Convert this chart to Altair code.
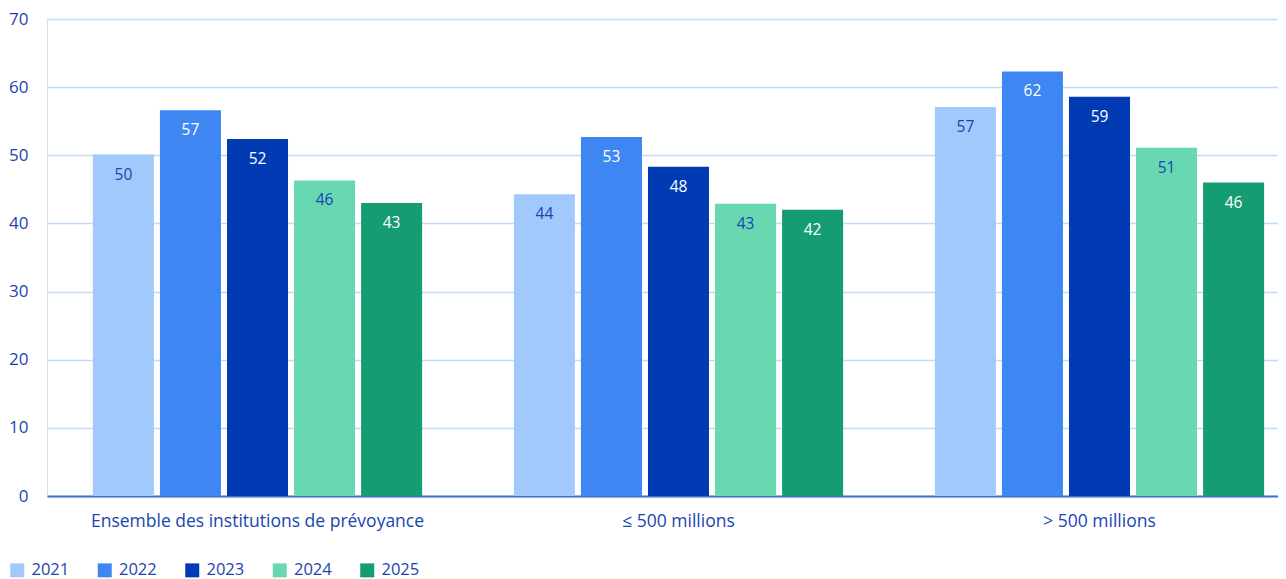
import altair as alt
import pandas as pd

categories = ["Ensemble des institutions de prévoyance", "≤ 500 millions", "> 500 millions"]
years = ["2021", "2022", "2023", "2024", "2025"]
v2021 = [50.1, 44.3, 57.1]
v2022 = [56.6, 52.7, 62.3]
v2023 = [52.4, 48.3, 58.6]
v2024 = [46.3, 42.9, 51.1]
v2025 = [43.0, 42.0, 46.0]
y_ticks = [0, 10, 20, 30, 40, 50, 60, 70]
colors = ["#a2c9fb", "#3e87f2", "#003bb3", "#68d8b0", "#169c72"]

series = [v2021, v2022, v2023, v2024, v2025]
rows = []
for yr, vals in zip(years, series):
    for cat, v in zip(categories, vals):
        rows.append({"category": cat, "year": yr, "value": v})
df = pd.DataFrame(rows)

TXT = "#1a44b0"
FONT = "Open Sans"

x = alt.X("category:N", sort=categories, title=None,
          scale=alt.Scale(paddingInner=0.218, paddingOuter=0.109, range=[0, 1263]),
          axis=alt.Axis(labelAngle=0, labelFontSize=17.5, labelColor=TXT, labelFont=FONT,
                        labelLimit=1000,
                        ticks=False, tickSize=0, labelPadding=16, domain=True,
                        domainColor="#3d70d4", domainWidth=2, grid=False))
xo = alt.XOffset("year:N", sort=years, scale=alt.Scale(paddingInner=0.09, paddingOuter=0))
y = alt.Y("value:Q", title=None,
          scale=alt.Scale(domain=[0, 70], nice=False),
          axis=alt.Axis(values=y_ticks, labelFontSize=17, labelColor=TXT, labelFont=FONT,
                        ticks=False, tickSize=0, labelPadding=19, domain=False,
                        grid=True, gridColor="#c4dbf6", gridWidth=1.5))

bars = alt.Chart(df).mark_bar().encode(
    x=x, xOffset=xo, y=y,
    color=alt.Color("year:N", sort=years, title=None,
                    scale=alt.Scale(domain=years, range=colors),
                    legend=alt.Legend(orient="none", direction="horizontal",
                                      legendX=-38, legendY=543,
                                      symbolType="square", symbolSize=196,
                                      symbolStrokeWidth=0, symbolOpacity=1,
                                      labelFontSize=16.5, labelColor=TXT, labelFont=FONT,
                                      labelOffset=6, columnPadding=26.5, padding=0)),
)

labels = alt.Chart(df).mark_text(dy=20, baseline="middle", fontSize=15.5, font=FONT).encode(
    x=x, xOffset=xo, y=y,
    text=alt.Text("value:Q", format=".0f"),
    color=alt.condition("datum.year == '2021' || datum.year == '2024'",
                        alt.value(TXT), alt.value("white")),
)

chart = alt.layer(bars, labels).properties(
    width=1231, height=477,
    autosize=alt.AutoSizeParams(type="none"),
    padding={"left": 39, "top": 11, "right": 0, "bottom": 83},
).configure_view(strokeWidth=0).configure(background="white")

chart.save("out.html", embed_options={"renderer": "svg", "actions": False})
